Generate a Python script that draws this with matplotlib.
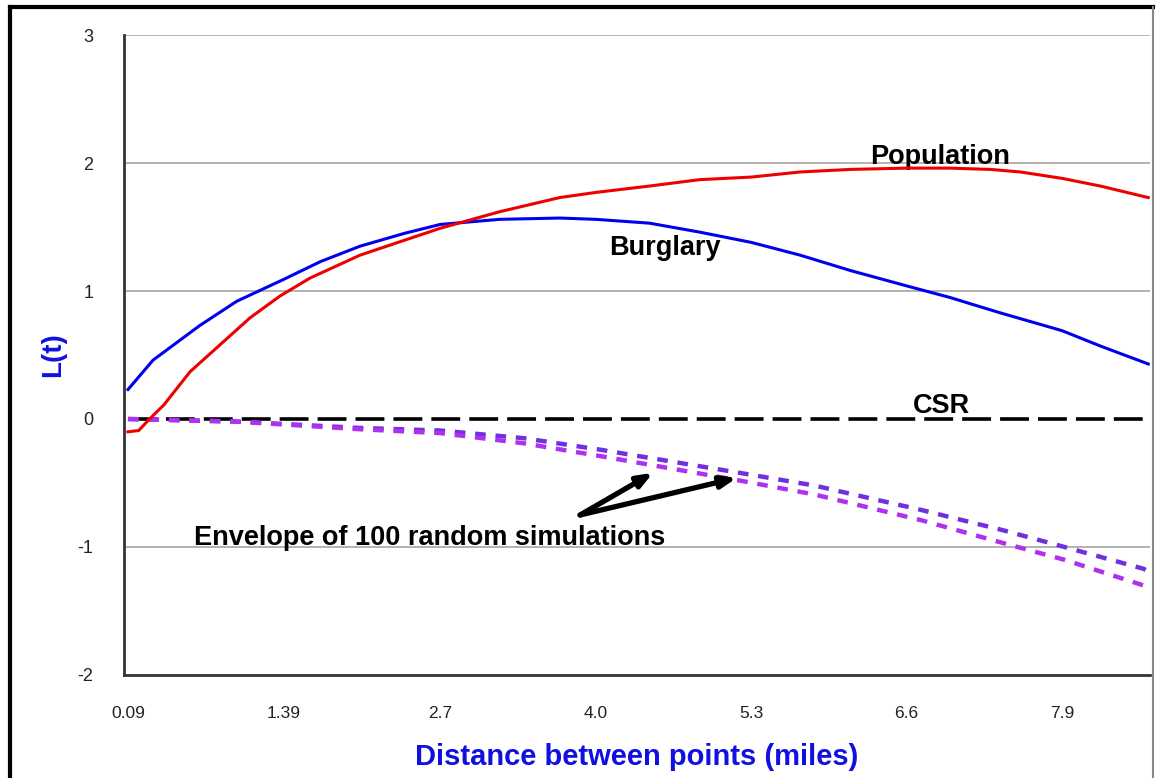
import matplotlib
matplotlib.use("Agg")
import matplotlib.pyplot as plt
from matplotlib.lines import Line2D

# values
burg_d = [0.09, 0.3, 0.69, 1.0, 1.39, 1.7, 2.03, 2.4, 2.7, 3.2, 3.7, 4.0, 4.45, 4.87,
          5.3, 5.71, 6.13, 6.6, 6.96, 7.38, 7.9, 8.22, 8.62]
burg_L = [0.23, 0.46, 0.73, 0.92, 1.09, 1.23, 1.35, 1.45, 1.52, 1.56, 1.57, 1.56, 1.53, 1.46,
          1.38, 1.28, 1.16, 1.04, 0.95, 0.83, 0.69, 0.57, 0.43]

pop_d = [0.09, 0.18, 0.26, 0.39, 0.61, 0.86, 1.11, 1.36, 1.61, 2.03, 2.7, 3.2, 3.7, 4.0,
         4.45, 4.87, 5.3, 5.71, 6.13, 6.6, 6.96, 7.3, 7.55, 7.9, 8.22, 8.62]
pop_L = [-0.10, -0.09, -0.01, 0.11, 0.37, 0.58, 0.79, 0.96, 1.10, 1.28, 1.49, 1.62, 1.73, 1.77,
         1.82, 1.87, 1.89, 1.93, 1.95, 1.96, 1.96, 1.95, 1.93, 1.88, 1.82, 1.73]

env_d = [0.09, 1.0, 2.03, 2.7, 3.4, 4.04, 5.2, 5.83, 6.72, 7.41, 7.92, 8.58, 8.62]
env_hi = [0.0, -0.02, -0.07, -0.09, -0.15, -0.24, -0.42, -0.52, -0.71, -0.87, -1.0, -1.17, -1.19]
env_lo = [0.0, -0.02, -0.08, -0.11, -0.19, -0.29, -0.48, -0.59, -0.79, -0.97, -1.10, -1.30, -1.32]

csr_d = [0.09, 8.62]
csr_L = [0.0, 0.0]

xticks = [0.09, 1.39, 2.7, 4.0, 5.3, 6.6, 7.9]
xlabels = ["0.09", "1.39", "2.7", "4.0", "5.3", "6.6", "7.9"]
yticks = [-2, -1, 0, 1, 2, 3]

plt.rcParams['font.family'] = ['Liberation Sans', 'DejaVu Sans']

fig = plt.figure(figsize=(11.6, 7.78), dpi=100)
ax = fig.add_axes([0.1069, 0.1324, 0.8845, 0.8226])

for v in [-1, 1, 2, 3]:
    ax.axhline(v, color="#a6a6a6", lw=1.2, zorder=1)

ax.plot(csr_d, csr_L, color="black", lw=2.6, dashes=(8, 2.5), zorder=3)
ax.plot(env_d, env_hi, color="#7030e0", lw=3.2, dashes=(2.4, 2.2), zorder=4)
ax.plot(env_d, env_lo, color="#b030f0", lw=3.2, dashes=(2.4, 2.2), zorder=4)
ax.plot(burg_d, burg_L, color="#0000ee", lw=2.2, zorder=5)
ax.plot(pop_d, pop_L, color="#ee0000", lw=2.2, zorder=5)

ax.set_xlim(0.057, 8.635)
ax.set_ylim(-2, 3)
ax.set_xticks(xticks)
ax.set_xticklabels(xlabels, fontsize=12.5, color="#222222")
ax.set_yticks(yticks)
ax.set_yticklabels([str(v) for v in yticks], fontsize=13, color="#222222")
ax.tick_params(axis="x", length=0, pad=22)
ax.tick_params(axis="y", length=0, pad=22)

for s in ["top", "right"]:
    ax.spines[s].set_visible(False)
for s in ["left", "bottom"]:
    ax.spines[s].set_color("#333333")
    ax.spines[s].set_linewidth(2)

ax.set_ylabel("L(t)", color="#1010e0", fontsize=20, fontweight="bold")
ax.yaxis.set_label_coords(-0.056, 0.5)
ax.set_xlabel("Distance between points (miles)", color="#1010e0", fontsize=21,
              fontweight="bold", labelpad=16)

ax.text(6.88, 1.99, "Population", fontsize=19.5, fontweight="bold", ha="center", va="baseline")
ax.text(4.58, 1.28, "Burglary", fontsize=19.5, fontweight="bold", ha="center", va="baseline")
ax.text(6.89, 0.05, "CSR", fontsize=19.5, fontweight="bold", ha="center", va="baseline")
ax.text(2.61, -0.985, "Envelope of 100 random simulations", fontsize=19.5, fontweight="bold",
        ha="center", va="baseline", zorder=6)

for tip in [(4.48, -0.42), (5.18, -0.46)]:
    ax.annotate("", xy=tip, xytext=(3.87, -0.75),
                arrowprops=dict(arrowstyle="-|>,head_length=0.9,head_width=0.35",
                                color="black", lw=3.8, shrinkA=0, shrinkB=0), zorder=6)

# outer frame
fig.add_artist(Line2D([10 / 1160, 10 / 1160], [0, 1 - 7 / 778], color="black", lw=3))
fig.add_artist(Line2D([10 / 1160, 1153 / 1160], [1 - 7 / 778, 1 - 7 / 778], color="black", lw=3))
fig.add_artist(Line2D([1153 / 1160, 1153 / 1160], [0, 1 - 7 / 778], color="#888888", lw=1.5))

fig.savefig("out.png", dpi=100)
